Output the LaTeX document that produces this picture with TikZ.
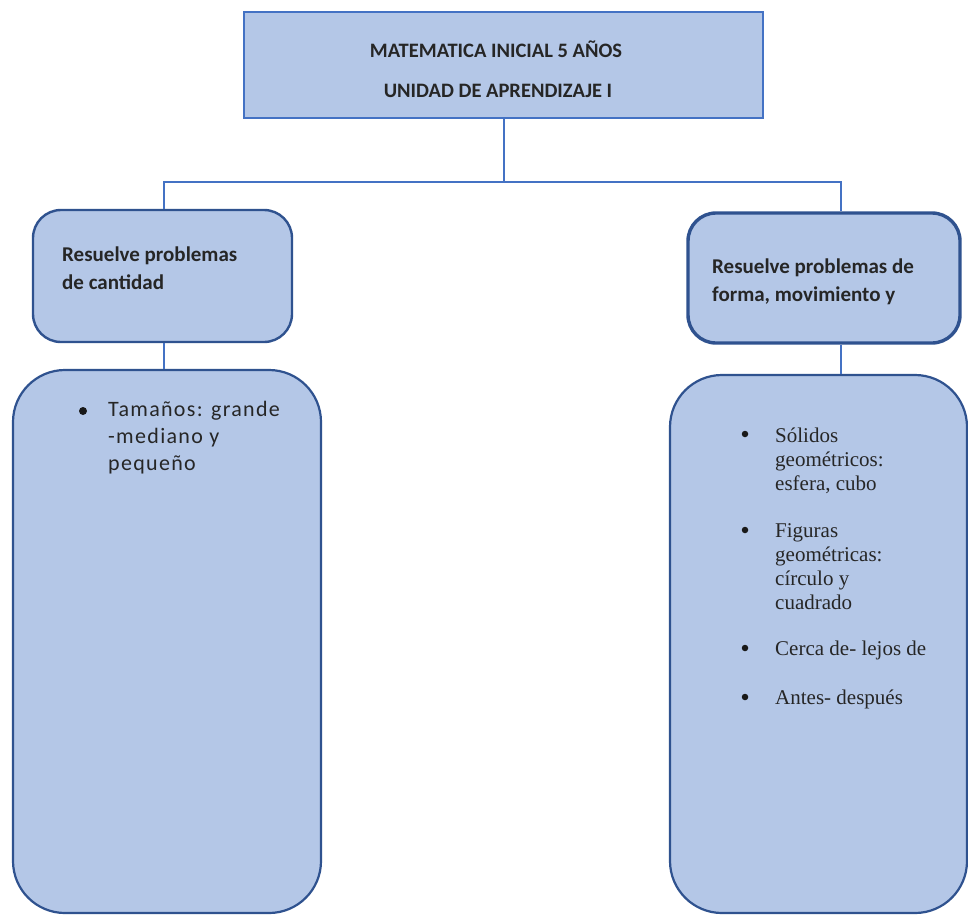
\documentclass[tikz,border=0pt]{standalone}
\usepackage{fontspec}
\setmainfont{Carlito}
\newfontfamily\timesface{Liberation Serif}
\newfontfamily\widesans[LetterSpace=6]{Carlito}
\definecolor{boxfill}{HTML}{B4C7E7}
\definecolor{boxline}{HTML}{4472C4}
\definecolor{rndline}{HTML}{2F528F}
\tikzset{
  x=1pt, y=-1pt,
  headbox/.style={draw=boxline, line width=2pt, fill=boxfill, inner sep=0pt},
  topicbox/.style={draw=rndline, line width=2.4pt, fill=boxfill, rounded corners=28pt, inner sep=0pt},
  listbox/.style={draw=rndline, line width=2.2pt, fill=boxfill, rounded corners=52pt, inner sep=0pt},
  link/.style={draw=boxline, line width=2pt},
  dot/.style={circle, fill=black!90, inner sep=0pt, minimum size=#1},
  headtxt/.style={font=\fontsize{20.5}{24}\selectfont\bfseries, inner sep=0pt, text=black!85},
  topictxt/.style={font=\fontsize{21}{28}\selectfont\bfseries, inner sep=0pt, align=left, anchor=north west, text=black!85},
  sanslist/.style={font=\widesans\fontsize{22}{27}\selectfont, inner sep=0pt, align=left, anchor=north west, text=black!85},
  seriflist/.style={font=\timesface\fontsize{21}{24}\selectfont, inner sep=0pt, align=left, anchor=north west, text=black!85},
}
\begin{document}
\begin{tikzpicture}
\useasboundingbox[fill=white] (0,0) rectangle (968,916);

% title box
\node[headbox, minimum width=519pt, minimum height=106pt] (top) at (503.5,65) {};
\node[headtxt] (t1) at (496,49) {MATEMATICA INICIAL 5 AÑOS};
\node[headtxt] (t2) at (498,91) {UNIDAD DE APRENDIZAJE I};

% competence boxes
\node[topicbox, minimum width=259pt, minimum height=132pt] (lbox) at (162.5,276) {};
\node[topicbox, line width=3.4pt, minimum width=272pt, minimum height=130pt] (rbox) at (824,278) {};
\node[topictxt] (lt) at (62,247) {Resuelve problemas\\de cantidad};
\node[topictxt] (rt) at (712,259) {Resuelve problemas de\\forma, movimiento y};

% content boxes
\node[listbox, minimum width=308pt, minimum height=543pt] (lbig) at (167,641.5) {};
\node[listbox, minimum width=297pt, minimum height=538pt] (rbig) at (818.5,644) {};

% connectors
\coordinate (j) at (503.5,182);
\coordinate (lx) at (164,0);
\coordinate (rx) at (841,0);
\draw[link] (top.south) -- (j);
\draw[link] (j) -| (lbox.north -| lx);
\draw[link] (j) -| (rbox.north -| rx);
\draw[link] (lbox.south -| lx) -- (lbig.north -| lx);
\draw[link] (rbox.south -| rx) -- (rbig.north -| rx);

% left list
\node[dot=8pt] (lb1) at (83,411) {};
\node[sanslist] (li1) at (108,401) {Tamaños: grande\\-mediano y\\pequeño};

% right list
\node[dot=6.5pt] (rb1) at (745,434) {};
\node[seriflist] (ri1) at (775,428) {Sólidos\\geométricos:\\esfera, cubo};
\node[dot=6.5pt] (rb2) at (745,530) {};
\node[seriflist] (ri2) at (775,523) {Figuras\\geométricas:\\círculo y\\cuadrado};
\node[dot=6.5pt] (rb3) at (745,648) {};
\node[seriflist] (ri3) at (775,641) {Cerca de- lejos de};
\node[dot=6.5pt] (rb4) at (745,697) {};
\node[seriflist] (ri4) at (775,690) {Antes- después};
\end{tikzpicture}
\end{document}
